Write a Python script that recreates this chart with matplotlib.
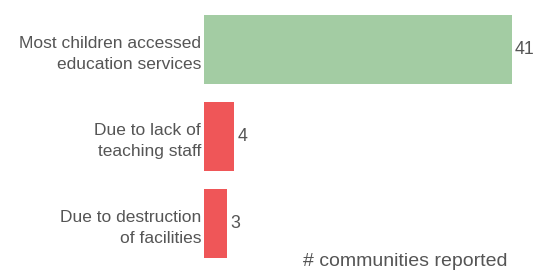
import matplotlib.pyplot as plt
import numpy as np

plt.rcParams["font.family"] = ["Liberation Sans", "DejaVu Sans"]

categories = [
    "Most children accessed\neducation services",
    "Due to lack of\nteaching staff",
    "Due to destruction\nof facilities",
]
counts = [41, 4, 3]
bar_colors = ["#a3cca3", "#ef5658", "#ef5658"]
x_label = "# communities reported"

text_color = "#555555"

fig = plt.figure(figsize=(5.4, 2.71), dpi=100)
ax = fig.add_axes([204 / 540, 4 / 271, 330 / 540, 261 / 271])

y = np.arange(len(categories))
bars = ax.barh(y, counts, height=0.79, color=bar_colors)
for rect, v in zip(bars, counts):
    ax.text(rect.get_width() + 0.45, rect.get_y() + rect.get_height() / 2,
            str(v), ha="left", va="center", fontsize=12.8, color=text_color)

ax.set_xlim(0, 44)
ax.set_ylim(len(categories) - 0.5, -0.5)
ax.set_yticks(y)
ax.set_yticklabels(categories, fontsize=12.5, color=text_color,
                   linespacing=1.5)
ax.tick_params(axis="y", length=0, pad=2)
ax.set_xticks([])
for s in ax.spines.values():
    s.set_visible(False)

fig.text(405 / 540, 1 - 262 / 271, x_label, ha="center", va="center",
         fontsize=14, color=text_color)

fig.savefig("out.png", dpi=100)
